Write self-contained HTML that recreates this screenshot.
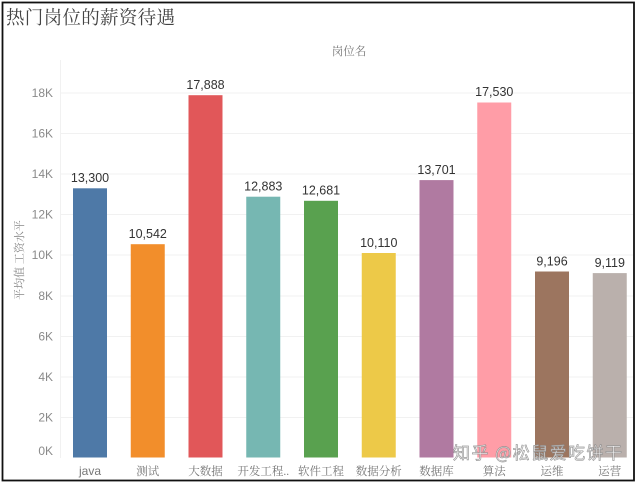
<!DOCTYPE html>
<html>
<head>
<meta charset="utf-8">
<style>
html,body{margin:0;padding:0;background:#fff;}
body{width:640px;height:483px;overflow:hidden;position:relative;}
svg{position:absolute;left:0;top:0;}
.tick{font-family:"Liberation Sans",sans-serif;font-size:12px;fill:#8a8a8a;}
.val{font-family:"Liberation Sans",sans-serif;font-size:12.5px;fill:#333;}
.xl{font-family:"Liberation Serif","Noto Serif CJK SC",serif;font-size:11.5px;fill:#777;}
</style>
</head>
<body>
<svg width="640" height="483" viewBox="0 0 640 483" xmlns="http://www.w3.org/2000/svg">
  <rect x="0" y="0" width="640" height="483" fill="#fff"/>
  <!-- title -->
  <text x="6" y="24" font-family="'Liberation Serif','Noto Serif CJK SC',serif" font-size="18.5" fill="#444" textLength="169">热门岗位的薪资待遇</text>
  <!-- header -->
  <text x="349" y="55" text-anchor="middle" font-family="'Liberation Serif','Noto Serif CJK SC',serif" font-size="11.5" fill="#777">岗位名</text>
  <!-- y axis title -->
  <text transform="translate(23,260) rotate(-90)" text-anchor="middle" font-family="'Liberation Serif','Noto Serif CJK SC',serif" font-size="11" fill="#888">平均值 工资水平</text>

  <!-- gridlines -->
  <g stroke="#f1f1f1" stroke-width="1">
    <line x1="60" y1="93" x2="633" y2="93"/>
    <line x1="60" y1="133.5" x2="633" y2="133.5"/>
    <line x1="60" y1="174" x2="633" y2="174"/>
    <line x1="60" y1="214.5" x2="633" y2="214.5"/>
    <line x1="60" y1="255" x2="633" y2="255"/>
    <line x1="60" y1="296" x2="633" y2="296"/>
    <line x1="60" y1="336.5" x2="633" y2="336.5"/>
    <line x1="60" y1="377" x2="633" y2="377"/>
    <line x1="60" y1="417.5" x2="633" y2="417.5"/>
    <line x1="60.5" y1="60" x2="60.5" y2="458"/>
  </g>

  <!-- tick labels -->
  <g class="tick" text-anchor="end">
    <text x="53" y="97">18K</text>
    <text x="53" y="137.5">16K</text>
    <text x="53" y="178">14K</text>
    <text x="53" y="218.5">12K</text>
    <text x="53" y="259">10K</text>
    <text x="53" y="300">8K</text>
    <text x="53" y="340.5">6K</text>
    <text x="53" y="381">4K</text>
    <text x="53" y="421.5">2K</text>
    <text x="53" y="455">0K</text>
  </g>

  <!-- bars -->
  <rect x="73" y="188.3" width="34" height="269.2" fill="#4e79a7"/>
  <rect x="130.75" y="244.2" width="34" height="213.3" fill="#f28e2b"/>
  <rect x="188.5" y="95.2" width="34" height="362.3" fill="#e15759"/>
  <rect x="246.25" y="196.7" width="34" height="260.8" fill="#76b7b2"/>
  <rect x="304" y="200.8" width="34" height="256.7" fill="#59a14f"/>
  <rect x="361.75" y="253" width="34" height="204.5" fill="#edc948"/>
  <rect x="419.5" y="180.1" width="34" height="277.4" fill="#b07aa1"/>
  <rect x="477.25" y="102.5" width="34" height="355" fill="#ff9da7"/>
  <rect x="535" y="271.5" width="34" height="186" fill="#9c755f"/>
  <rect x="592.75" y="273.1" width="34" height="184.4" fill="#bab0ac"/>

  <!-- value labels -->
  <g class="val" text-anchor="middle">
    <text x="90" y="182">13,300</text>
    <text x="147.75" y="238">10,542</text>
    <text x="205.5" y="89">17,888</text>
    <text x="263.25" y="190.5">12,883</text>
    <text x="321" y="194.5">12,681</text>
    <text x="378.75" y="247">10,110</text>
    <text x="436.5" y="174">13,701</text>
    <text x="494.25" y="96">17,530</text>
    <text x="552" y="265.5">9,196</text>
    <text x="609.75" y="267">9,119</text>
  </g>

  <!-- x labels -->
  <g class="xl" text-anchor="middle">
    <text x="90" y="475" font-family="'Liberation Sans',sans-serif" font-size="12">java</text>
    <text x="147.75" y="475">测试</text>
    <text x="205.5" y="475">大数据</text>
    <text x="263.25" y="475">开发工程..</text>
    <text x="321" y="475">软件工程</text>
    <text x="378.75" y="475">数据分析</text>
    <text x="436.5" y="475">数据库</text>
    <text x="494.25" y="475">算法</text>
    <text x="552" y="475">运维</text>
    <text x="609.75" y="475">运营</text>
  </g>

  <!-- watermark -->
  <text x="453" y="459" font-family="'Noto Sans CJK SC',sans-serif" font-size="17" fill="#ffffff" fill-opacity="0.85" stroke="#8a8a8a" stroke-width="0.7" stroke-opacity="0.85" textLength="169">知乎 @松鼠爱吃饼干</text>

  <!-- border -->
  <rect x="2.5" y="2.5" width="631.5" height="478" fill="none" stroke="#111" stroke-width="1.8"/>
</svg>
</body>
</html>
